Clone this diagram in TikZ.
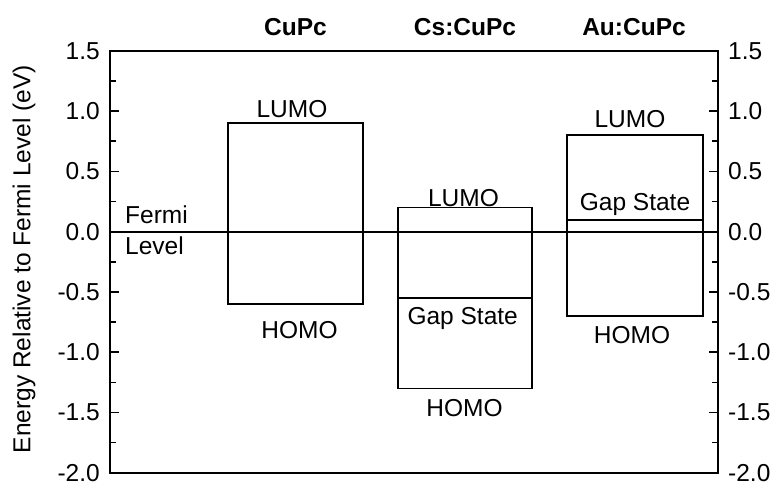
\documentclass[tikz,border=0pt]{standalone}
\usepackage{fontspec}
\setmainfont{Liberation Sans}
\usetikzlibrary{positioning}
\tikzset{
    lbl/.style={font=\fontsize{24.5}{29}\selectfont, inner sep=0pt},
    colTitle/.style={font=\fontsize{24.5}{29}\selectfont\bfseries, inner sep=0pt, anchor=base},
    axisLine/.style={line width=2pt},
    levelLine/.style={line width=1.7pt},
    tickLine/.style={line width=1.7pt},
}
% box from HOMO to LUMO: name, left, right, top, bottom
\newcommand{\levelBox}[5]{
    \coordinate (#1NW) at (#2,#4);
    \coordinate (#1SE) at (#3,#5);
    \draw[levelLine] (#1NW) rectangle (#1SE);
}
% gap state line inside a box
\newcommand{\gapLine}[2]{
    \coordinate (#1gw) at (#1NW |- 0,#2);
    \coordinate (#1ge) at (#1SE |- 0,#2);
    \draw[levelLine] (#1gw) -- (#1ge);
}

\begin{document}
\begin{tikzpicture}[x=1pt, y=120.5pt]

        \useasboundingbox (0,-2.077) rectangle (775,1.923);

        % frame and axes
        \coordinate (fSW) at (110,-2);
        \coordinate (fNE) at (718,1.5);
        \draw[axisLine] (fSW) rectangle (fNE);
        \foreach \v/\i in {-2.0/0,-1.5/1,-1.0/2,-0.5/3,0.0/4,0.5/5,1.0/6,1.5/7} {
            \draw[tickLine] (110,\v) -- (119,\v);
            \draw[tickLine] (718,\v) -- (709,\v);
            \node[lbl, anchor=east] (lt\i) at (100,\v) {\v};
            \node[lbl, anchor=west] (rt\i) at (728,\v) {\v};
        }
        \foreach \v in {-1.75,-1.25,-0.75,-0.25,0.25,0.75,1.25} {
            \draw[tickLine] (110,\v) -- (116,\v);
            \draw[tickLine] (718,\v) -- (712,\v);
        }
        \node[lbl, rotate=90] (ylab) at (24,-0.227) {Energy Relative to Fermi Level (eV)};

        % Fermi level
        \coordinate (fermiW) at (110,0);
        \coordinate (fermiE) at (718,0);
        \draw[levelLine] (fermiW) -- (fermiE);
        \node[lbl, anchor=base west] (fermi) at (125,0.072) {Fermi};
        \node[lbl, anchor=base west] (level) at (125,-0.185) {Level};

        % CuPc
        \levelBox{cu}{228}{363}{0.9}{-0.6}
        \node[colTitle] (tCu) at (295.5,1.632) {CuPc};
        \node[lbl, anchor=base] (cuL) at (292,0.952) {LUMO};
        \node[lbl, anchor=base] (cuH) at (299.5,-0.882) {HOMO};

        % Cs:CuPc
        \levelBox{cs}{398}{532}{0.2}{-1.3}
        \gapLine{cs}{-0.55}
        \node[colTitle] (tCs) at (465,1.632) {Cs:CuPc};
        \node[lbl, anchor=base] (csL) at (463.5,0.212) {LUMO};
        \node[lbl, anchor=base] (csG) at (462.7,-0.766) {Gap State};
        \node[lbl, anchor=base] (csH) at (464.5,-1.535) {HOMO};

        % Au:CuPc
        \levelBox{au}{567}{703}{0.8}{-0.7}
        \gapLine{au}{0.1}
        \node[colTitle] (tAu) at (634,1.632) {Au:CuPc};
        \node[lbl, anchor=base] (auL) at (630,0.861) {LUMO};
        \node[lbl, anchor=base] (auG) at (635,0.180) {Gap State};
        \node[lbl, anchor=base] (auH) at (632,-0.924) {HOMO};

    \end{tikzpicture}
\end{document}
